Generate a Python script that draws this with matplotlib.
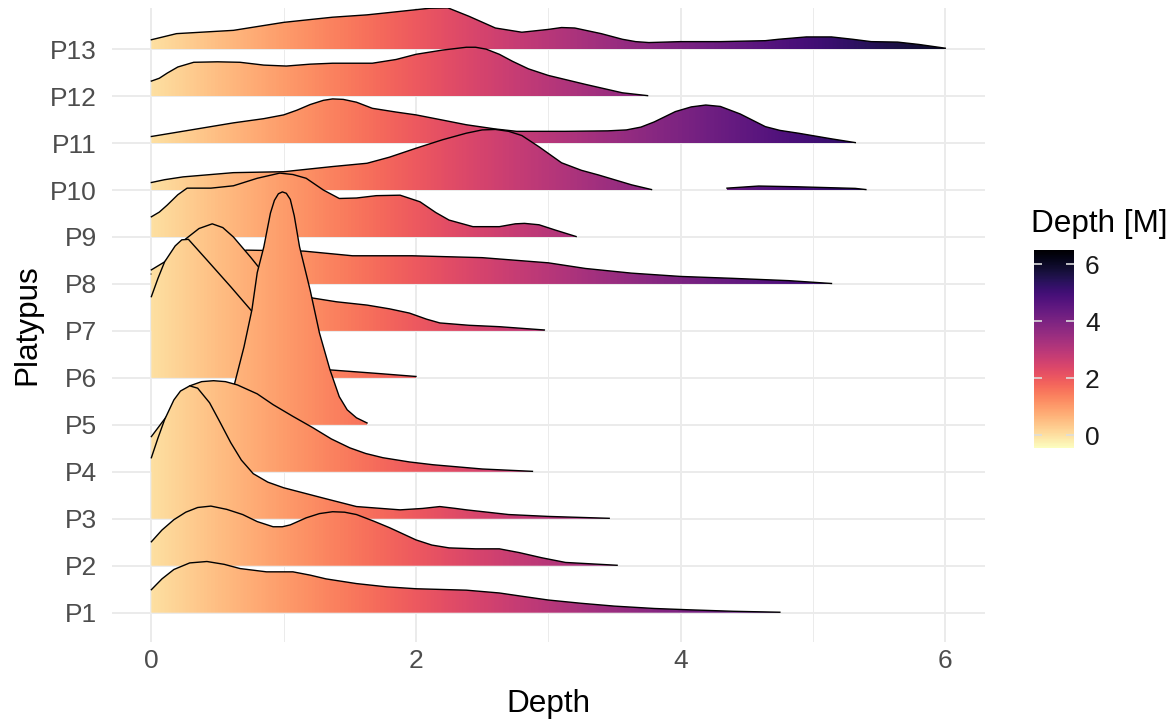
import matplotlib.pyplot as plt
import numpy as np
from matplotlib.patches import Polygon
from matplotlib.colors import Normalize
from matplotlib.cm import ScalarMappable

plt.rcParams['font.family'] = ['Liberation Sans', 'DejaVu Sans']

platypus = ['P1', 'P2', 'P3', 'P4', 'P5', 'P6', 'P7', 'P8', 'P9', 'P10', 'P11', 'P12', 'P13']

# ridge outlines: depth and ridge height (in row spacings)
p1_x = [0, 0.08, 0.17, 0.29, 0.42, 0.55, 0.67, 0.87, 1.07, 1.2, 1.32, 1.55, 1.78, 2.0, 2.38, 2.63, 2.8,
        3.0, 3.25, 3.5, 3.8, 4.08, 4.4, 4.75]
p1_h = [0.49, 0.72, 0.92, 1.06, 1.09, 1.03, 0.94, 0.87, 0.87, 0.80, 0.72, 0.62, 0.55, 0.51, 0.48, 0.42, 0.35,
        0.27, 0.20, 0.14, 0.09, 0.06, 0.03, 0.01]

p2_x = [0, 0.08, 0.17, 0.26, 0.35, 0.45, 0.57, 0.69, 0.8, 0.92, 0.99, 1.05, 1.17, 1.27, 1.37, 1.46, 1.55,
        1.68, 1.8, 2.0, 2.12, 2.25, 2.45, 2.63, 2.78, 2.95, 3.13, 3.52]
p2_h = [0.51, 0.76, 0.98, 1.14, 1.24, 1.27, 1.20, 1.09, 0.94, 0.83, 0.83, 0.87, 1.02, 1.11, 1.15, 1.14, 1.09,
        0.95, 0.81, 0.55, 0.44, 0.38, 0.36, 0.36, 0.28, 0.17, 0.07, 0.01]

p3_x = [0, 0.05, 0.1, 0.17, 0.22, 0.29, 0.35, 0.44, 0.52, 0.6, 0.68, 0.77, 0.88, 1.0, 1.3, 1.55, 1.88,
        2.05, 2.18, 2.3, 2.38, 2.7, 3.0, 3.46]
p3_h = [1.30, 1.72, 2.11, 2.53, 2.72, 2.83, 2.78, 2.47, 2.05, 1.62, 1.25, 0.96, 0.78, 0.66, 0.44, 0.26, 0.19,
        0.22, 0.26, 0.22, 0.19, 0.09, 0.05, 0.01]

p4_x = [0, 0.08, 0.17, 0.29, 0.38, 0.47, 0.56, 0.65, 0.8, 0.92, 1.07, 1.22, 1.36, 1.5, 1.62, 1.75, 1.95,
        2.13, 2.5, 2.88]
p4_h = [0.75, 1.05, 1.38, 1.83, 1.92, 1.94, 1.92, 1.85, 1.66, 1.43, 1.18, 0.94, 0.70, 0.51, 0.39, 0.30, 0.21,
        0.15, 0.06, 0.01]

p5_x = [0.12, 0.25, 0.45, 0.55, 0.6, 0.63, 0.7, 0.76, 0.8, 0.85, 0.9, 0.93, 0.96, 0.99, 1.02, 1.05, 1.08,
        1.12, 1.2, 1.27, 1.35, 1.42, 1.48, 1.55, 1.63]
p5_h = [0.01, 0.08, 0.20, 0.40, 0.62, 0.89, 1.66, 2.45, 3.24, 3.79, 4.51, 4.78, 4.92, 4.96, 4.93, 4.80, 4.45,
        3.79, 2.87, 1.96, 1.17, 0.60, 0.32, 0.15, 0.04]

p6_x = [0, 0.05, 0.1, 0.18, 0.23, 0.28, 0.42, 0.6, 0.75, 0.9, 1.05, 1.2, 1.35, 1.73, 2.0]
p6_h = [1.73, 2.12, 2.47, 2.81, 2.94, 2.95, 2.51, 1.94, 1.45, 0.96, 0.53, 0.28, 0.17, 0.09, 0.03]

p7_x = [0, 0.1, 0.26, 0.36, 0.46, 0.54, 0.62, 0.75, 0.81, 0.95, 1.1, 1.22, 1.4, 1.63, 1.8, 1.95, 2.08,
        2.18, 2.4, 2.63, 2.97]
p7_h = [1.30, 1.47, 1.96, 2.18, 2.28, 2.20, 2.00, 1.57, 1.36, 1.02, 0.81, 0.70, 0.62, 0.55, 0.47, 0.38, 0.25,
        0.17, 0.12, 0.09, 0.02]

p8_x = [0, 0.3, 0.5, 0.72, 1.15, 1.52, 1.97, 2.5, 3.0, 3.28, 3.63, 4.0, 4.39, 4.82, 5.14]
p8_h = [0.21, 0.47, 0.62, 0.72, 0.70, 0.60, 0.60, 0.56, 0.45, 0.33, 0.23, 0.16, 0.12, 0.07, 0.01]

p9_x = [0, 0.06, 0.12, 0.2, 0.27, 0.45, 0.62, 0.8, 0.97, 1.07, 1.17, 1.3, 1.42, 1.55, 1.7, 1.88, 2.03,
        2.15, 2.25, 2.43, 2.63, 2.75, 2.82, 2.93, 3.05, 3.21]
p9_h = [0.43, 0.53, 0.68, 0.90, 1.04, 1.04, 1.09, 1.25, 1.36, 1.33, 1.25, 1.00, 0.82, 0.83, 0.88, 0.89, 0.75,
        0.52, 0.36, 0.22, 0.22, 0.28, 0.29, 0.26, 0.15, 0.01]

p10_x = [0, 0.1, 0.24, 0.62, 1.0, 1.37, 1.63, 1.8, 2.0, 2.2, 2.38, 2.5, 2.6, 2.7, 2.8, 2.93, 3.1, 3.25,
         3.38, 3.63, 3.78]
p10_h = [0.16, 0.22, 0.28, 0.37, 0.39, 0.50, 0.57, 0.70, 0.89, 1.07, 1.21, 1.28, 1.29, 1.25, 1.16, 0.92, 0.58,
         0.42, 0.32, 0.11, 0.01]
p10b_x = [4.35, 4.59, 4.87, 5.32, 5.4]
p10b_h = [0.04, 0.085, 0.07, 0.035, 0.01]

p11_x = [0, 0.3, 0.62, 0.85, 1.0, 1.1, 1.2, 1.3, 1.37, 1.45, 1.55, 1.67, 1.85, 2.0, 2.2, 2.38, 2.6, 2.76,
         3.13, 3.45, 3.59, 3.7, 3.8, 3.96, 4.08, 4.19, 4.3, 4.45, 4.64, 4.75, 4.89, 5.14, 5.32]
p11_h = [0.14, 0.28, 0.43, 0.52, 0.60, 0.70, 0.82, 0.91, 0.94, 0.93, 0.87, 0.74, 0.66, 0.60, 0.49, 0.39, 0.30,
         0.25, 0.25, 0.26, 0.28, 0.34, 0.45, 0.67, 0.77, 0.81, 0.78, 0.62, 0.35, 0.27, 0.21, 0.09, 0.01]

p12_x = [0, 0.06, 0.12, 0.2, 0.32, 0.5, 0.67, 0.85, 1.02, 1.2, 1.37, 1.67, 1.85, 2.0, 2.2, 2.38, 2.45,
         2.53, 2.63, 2.73, 2.85, 3.0, 3.28, 3.56, 3.75]
p12_h = [0.32, 0.38, 0.49, 0.62, 0.72, 0.73, 0.72, 0.66, 0.64, 0.68, 0.70, 0.70, 0.78, 0.89, 0.98, 1.04, 1.04,
         1.00, 0.89, 0.74, 0.58, 0.44, 0.25, 0.07, 0.01]

p13_x = [0, 0.19, 0.62, 1.0, 1.2, 1.37, 1.63, 1.8, 2.0, 2.1, 2.24, 2.4, 2.6, 2.8, 3.0, 3.1, 3.2, 3.4,
         3.56, 3.66, 3.76, 4.0, 4.3, 4.64, 4.74, 4.95, 5.14, 5.3, 5.44, 5.64, 5.8, 6.0]
p13_h = [0.20, 0.33, 0.40, 0.57, 0.63, 0.68, 0.73, 0.78, 0.84, 0.87, 0.88, 0.70, 0.45, 0.36, 0.42, 0.46, 0.45,
         0.33, 0.21, 0.16, 0.14, 0.16, 0.16, 0.18, 0.21, 0.26, 0.26, 0.21, 0.16, 0.15, 0.10, 0.02]

ridges = [
    [(p1_x, p1_h)], [(p2_x, p2_h)], [(p3_x, p3_h)], [(p4_x, p4_h)], [(p5_x, p5_h)],
    [(p6_x, p6_h)], [(p7_x, p7_h)], [(p8_x, p8_h)], [(p9_x, p9_h)],
    [(p10_x, p10_h), (p10b_x, p10b_h)], [(p11_x, p11_h)], [(p12_x, p12_h)], [(p13_x, p13_h)],
]

depth_ticks = [0, 2, 4, 6]
fill_lo, fill_hi = -0.45, 6.5

fig = plt.figure(figsize=(11.73, 7.26), dpi=100)
ax = fig.add_axes([0.0952, 0.1157, 0.7445, 0.8729])
x0, x1 = -0.3, 6.3
y0, y1 = 0.376, 13.87

norm = Normalize(fill_lo, fill_hi)
cmap = plt.get_cmap('magma_r')
grad = np.linspace(x0, x1, 900).reshape(1, -1)

# top row first so lower rows overlap the ones above
for k in range(len(platypus), 0, -1):
    z = 2 + 2 * (len(platypus) - k)
    for xs, hs in ridges[k - 1]:
        xs = np.asarray(xs, dtype=float)
        ys = k + np.asarray(hs, dtype=float)
        verts = np.column_stack([np.r_[xs[0], xs, xs[-1]], np.r_[k, ys, k]])
        poly = Polygon(verts, closed=True, transform=ax.transData)
        im = ax.imshow(grad, extent=(x0, x1, k, ys.max() + 0.1), aspect='auto', cmap=cmap,
                       norm=norm, origin='lower', zorder=z, interpolation='bilinear')
        im.set_clip_path(poly)
        ax.plot(xs, ys, color='black', lw=1.0, zorder=z + 1, solid_joinstyle='round')

ax.set_xlim(x0, x1)
ax.set_ylim(y0, y1)
ax.set_xticks(depth_ticks)
ax.set_xticks([1, 3, 5], minor=True)
ax.set_yticks(range(1, len(platypus) + 1))
ax.set_yticklabels(platypus)
ax.set_axisbelow(True)
ax.grid(which='major', color='#EBEBEB', lw=1.4)
ax.grid(which='minor', axis='x', color='#EBEBEB', lw=0.7)
for s in ax.spines.values():
    s.set_visible(False)
ax.tick_params(which='both', length=0)
ax.tick_params(axis='y', labelsize=19, labelcolor='#4D4D4D', pad=10.5)
ax.tick_params(axis='x', labelsize=19, labelcolor='#4D4D4D', pad=5)

fig.text(548 / 1173, (726 - 712) / 726, 'Depth', fontsize=22.7, ha='center', va='baseline')
fig.text(27 / 1173, (726 - 325) / 726, 'Platypus', fontsize=22.7, ha='center', va='center',
         rotation=90)

# colour bar
cax = fig.add_axes([1034 / 1173, (726 - 448) / 726, 40 / 1173, 198 / 726])
sm = ScalarMappable(norm=norm, cmap=cmap)
cb = fig.colorbar(sm, cax=cax, ticks=depth_ticks)
cb.outline.set_visible(False)
cax.yaxis.set_ticks_position('both')
cax.tick_params(direction='in', length=6, width=1.2, color='#DDDDDD', labelsize=19,
                labelcolor='#1A1A1A', pad=8, labelleft=False, labelright=True)
fig.text(1031 / 1173, (726 - 232) / 726, 'Depth [M]', fontsize=22.7, ha='left', va='baseline')

fig.savefig('out.png', dpi=100)
